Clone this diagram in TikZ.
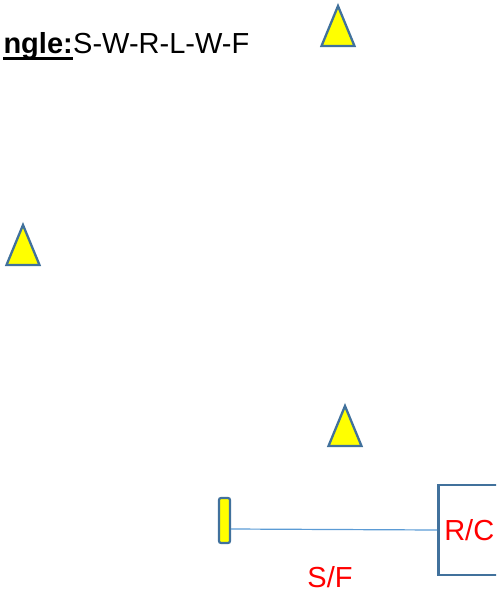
\documentclass[tikz,border=0pt]{standalone}
\usepackage{fontspec}
\setmainfont{Liberation Sans}
\usetikzlibrary{positioning}
\definecolor{edge}{RGB}{65,113,156}
\definecolor{wire}{RGB}{91,155,213}
\definecolor{marker}{RGB}{255,255,0}
\definecolor{tag}{RGB}{255,0,0}

\begin{document}
\begin{tikzpicture}[
  x=1pt, y=-1pt,
  big/.style={inner sep=0pt, font=\fontsize{29}{34}\selectfont},
  cone/.style={draw=edge, fill=marker, line width=2.3pt, line join=miter},
  post/.style={rectangle, rounded corners=2pt, draw=edge, fill=marker, line width=2.2pt,
    minimum width=11pt, minimum height=45pt, inner sep=0pt},
  box/.style={rectangle, draw=edge, line width=2.6pt, inner xsep=6pt,
    minimum height=90pt, font=\fontsize{29}{34}\selectfont\color{tag}}
]
\useasboundingbox (0,0) rectangle (496,592);
\clip (0,0) rectangle (496,592);

% Heading
\node[big, anchor=base west] (seq) at (73,53) {S-W-R-L-W-F};
\node[big, anchor=base east, font=\fontsize{29}{34}\selectfont\bfseries] (title) at (seq.base west) {ngle:};
\draw[line width=2.6pt] ([yshift=-5.6pt]title.base west) -- ([yshift=-5.6pt]title.base east);

% Cones
\foreach \ax/\ay in {338/6, 23/225, 345/406}
  \draw[cone] (\ax,\ay) -- ++(16.5,40) -- ++(-33,0) -- cycle;

% Start post and rescue box
\node[post] (start) at (224.5,520.5) {};
\node[box, anchor=west] (rc) at (437,530) {R/C};
\node[big, anchor=base, text=tag] (sf) at (330,587) {S/F};

\draw[wire, line width=1.2pt] ([yshift=-8.5pt]start.east) -- (rc.west);
\end{tikzpicture}
\end{document}
